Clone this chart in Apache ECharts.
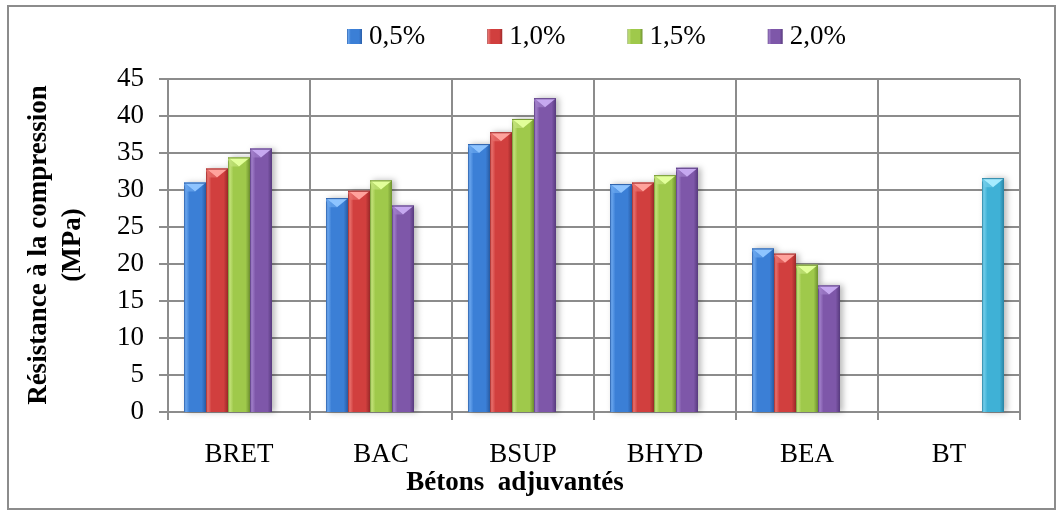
<!DOCTYPE html>
<html>
<head>
<meta charset="utf-8">
<script src="https://cdn.jsdelivr.net/npm/echarts@6/dist/echarts.min.js"></script>
<style>
  html, body { margin: 0; padding: 0; background: #fff; }
  #chart { width: 1063px; height: 515px; }
</style>
</head>
<body>
<div id="chart"></div>
<script>
// Concrete mixes and compressive strength (MPa) per admixture dosage
const categories = ['BRET', 'BAC', 'BSUP', 'BHYD', 'BEA', 'BT'];
const dosageNames = ['0,5%', '1,0%', '1,5%', '2,0%'];
const dose05 = [31.0, 28.9, 36.2, 30.8, 22.1, null];
const dose10 = [32.9, 29.9, 37.8, 31.0, 21.4, null];
const dose15 = [34.4, 31.3, 39.6, 32.0, 19.9, null];
const dose20 = [35.6, 27.9, 42.4, 33.0, 17.1, null];
const reference = [null, null, null, null, null, 31.6];
const yTicks = { min: 0, max: 45, interval: 5 };

const FONT = "'Liberation Serif', 'Times New Roman', serif";
const BAR_W = 22;

// base, light, dark, highlight tones for each series
const palette = [
  ['#3b7fd6', '#6aa6ee', '#2a5ea8', '#8ec4ff'],
  ['#d13f3e', '#e8706c', '#9e2a2a', '#ffa29c'],
  ['#9fc94b', '#c3e27a', '#6f9330', '#e2ff9a'],
  ['#7e57a9', '#a17fca', '#573a7d', '#c6a8f0'],
  ['#3fb1d6', '#72cdea', '#2a83a3', '#a6ecff']
];

function bodyGradient(c) {
  return new echarts.graphic.LinearGradient(0, 0, 1, 0, [
    { offset: 0, color: c[2] },
    { offset: 0.08, color: c[1] },
    { offset: 0.25, color: c[0] },
    { offset: 0.8, color: c[0] },
    { offset: 1, color: c[2] }
  ]);
}

const seriesValues = [dose05, dose10, dose15, dose20, reference];
const seriesNames = dosageNames.concat(['BT']);

const barSeries = seriesValues.map((vals, i) => ({
  type: 'bar',
  name: seriesNames[i],
  data: vals,
  barWidth: BAR_W,
  barGap: '0%',
  z: 3,
  itemStyle: {
    color: bodyGradient(palette[i]),
    shadowBlur: 6,
    shadowOffsetX: 3,
    shadowOffsetY: 0,
    shadowColor: 'rgba(0,0,0,0.28)'
  },
  emphasis: { disabled: true }
}));

// bevelled cap drawn on top of each bar
const capSeries = seriesValues.map((vals, i) => ({
  type: 'custom',
  name: seriesNames[i] + ' cap',
  data: vals.map((v, k) => [k, v]),
  z: 4,
  silent: true,
  renderItem: function (params, api) {
    const v = api.value(1);
    if (v == null || isNaN(v)) return;
    const p = api.coord([api.value(0), v]);
    const cx = p[0] + BAR_W * (i - 2);
    const l = cx - BAR_W / 2, r = cx + BAR_W / 2, t = p[1];
    const c = palette[i];
    return {
      type: 'group',
      children: [
        { type: 'polygon', shape: { points: [[l, t], [r, t], [cx, t + 9]] },
          style: { fill: c[3] } },
        { type: 'polygon', shape: { points: [[l, t], [cx, t + 9], [l + 3, t + 9], [l, t + 2]] },
          style: { fill: c[1], opacity: 0.7 } },
        { type: 'line', shape: { x1: l, y1: t + 0.5, x2: r, y2: t + 0.5 },
          style: { stroke: c[2], lineWidth: 1 } }
      ]
    };
  }
}));

const chart = echarts.init(document.getElementById('chart'), null, { renderer: 'canvas' });
chart.setOption({
  animation: false,
  backgroundColor: '#ffffff',
  textStyle: { fontFamily: FONT },
  grid: { left: 168, right: 43, top: 79, bottom: 103, containLabel: false },
  legend: {
    data: dosageNames,
    top: 23,
    left: 347,
    padding: 0,
    itemWidth: 15,
    itemHeight: 15,
    itemGap: 62,
    icon: 'rect',
    textStyle: { fontFamily: FONT, fontSize: 27, color: '#000', padding: [0, 0, 0, 2] }
  },
  xAxis: {
    type: 'category',
    data: categories,
    axisLine: { lineStyle: { color: '#8c8c8c', width: 2 } },
    axisTick: { show: true, length: 8, lineStyle: { color: '#8c8c8c', width: 2 } },
    axisLabel: { fontFamily: FONT, fontSize: 27, color: '#000', margin: 29 },
    splitLine: { show: true, lineStyle: { color: '#8c8c8c', width: 2 } }
  },
  yAxis: {
    type: 'value',
    min: yTicks.min,
    max: yTicks.max,
    interval: yTicks.interval,
    axisLine: { show: true, lineStyle: { color: '#8c8c8c', width: 2 } },
    axisTick: { show: true, length: 9, lineStyle: { color: '#8c8c8c', width: 2 } },
    axisLabel: { fontFamily: FONT, fontSize: 27, color: '#000', margin: 24 },
    splitLine: { show: true, lineStyle: { color: '#8c8c8c', width: 2 } }
  },
  graphic: [
    { type: 'rect', z: -1, silent: true,
      shape: { x: 8, y: 6, width: 1047, height: 503 },
      style: { fill: 'none', stroke: '#8c8c8c', lineWidth: 2 } },
    { type: 'text', x: 56, y: 245, rotation: Math.PI / 2, silent: true,
      style: { text: 'Résistance à la compression\n(MPa)', fontFamily: FONT,
        fontSize: 27, fontWeight: 'bold', fill: '#000', align: 'center',
        verticalAlign: 'middle', lineHeight: 34 } },
    { type: 'text', x: 515, y: 483, silent: true,
      style: { text: 'Bétons  adjuvantés', fontFamily: FONT, fontSize: 27,
        fontWeight: 'bold', fill: '#000', align: 'center', verticalAlign: 'middle' } }
  ],
  series: barSeries.concat(capSeries)
});
</script>
</body>
</html>
